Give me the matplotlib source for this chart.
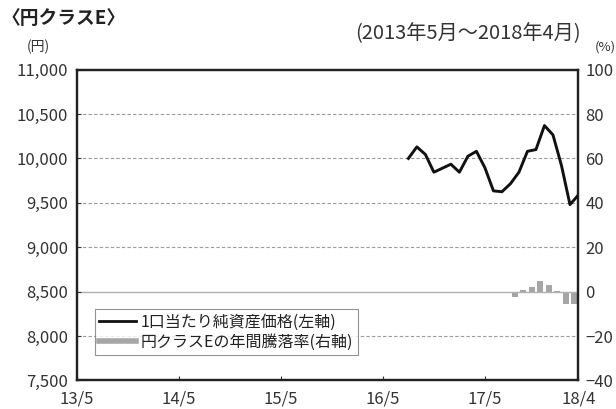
import matplotlib
matplotlib.use("Agg")
import matplotlib.pyplot as plt
from matplotlib.lines import Line2D

plt.rcParams['font.family'] = ['Noto Sans CJK JP', 'DejaVu Sans']

# months counted from 2013/5 (0) to 2018/4 (59)
tick_pos = [0, 12, 24, 36, 48, 59]
tick_labels = ['13/5', '14/5', '15/5', '16/5', '17/5', '18/4']

# 1口当たり純資産価格 (円), 2016/8 - 2018/4
nav_month = list(range(39, 60))
nav_value = [10000, 10130, 10045, 9845, 9890, 9935, 9845, 10025, 10080, 9895,
             9635, 9625, 9715, 9845, 10080, 10100, 10370, 10265, 9920, 9480, 9590]

# 年間騰落率 (%)
ret_month = [52, 53, 54, 55, 56, 57, 58, 59]
ret_value = [-2.5, 0.7, 2.3, 4.8, 3.0, 0.2, -5.5, -5.5]

fig = plt.figure(figsize=(6.16, 4.09), dpi=100)
ax = fig.add_axes([0.1244, 0.0697, 0.8147, 0.7601])
ax2 = ax.twinx()

ax.set_xlim(0, 59)
ax.set_ylim(7500, 11000)
ax2.set_ylim(-40, 100)

# grid lines
for v in [8000, 9000, 9500, 10000, 10500]:
    ax.axhline(v, color='#9a9a9a', lw=0.8, ls=(0, (3, 2)), zorder=0)
ax.axhline(8500, color='#b0b0b0', lw=1.0, zorder=0)

ax2.bar([m - 0.5 for m in ret_month], ret_value, width=0.75, color='#a6a6a6', zorder=2)
ax.plot(nav_month, nav_value, color='#111111', lw=2.1, zorder=3)
ax.set_zorder(ax2.get_zorder() + 1)
ax.patch.set_visible(False)

ax.set_xticks(tick_pos)
ax.set_xticklabels(tick_labels)
ax.set_yticks(range(7500, 11001, 500))
ax.set_yticklabels(['{:,}'.format(v) for v in range(7500, 11001, 500)])
ax2.set_yticks(range(-40, 101, 20))

ax.tick_params(axis='both', direction='in', length=3, labelsize=12, colors='#333333', width=0.8)
ax.tick_params(axis='y', pad=6)
ax.tick_params(axis='x', pad=7)
ax2.tick_params(axis='y', direction='in', length=0, labelsize=12, colors='#333333', pad=5)
for a in (ax, ax2):
    for s in a.spines.values():
        s.set_color('#222222')
        s.set_linewidth(1.6)

handles = [Line2D([], [], color='#111111', lw=2),
           Line2D([], [], color='#a6a6a6', lw=4)]
leg = ax.legend(handles, ['1口当たり純資産価格(左軸)', '円クラスEの年間騰落率(右軸)'],
                loc='lower left', bbox_to_anchor=(0.02, 0.055), fontsize=11.5,
                frameon=True, fancybox=False, handlelength=2.3, handletextpad=0.3,
                borderpad=0.3, labelspacing=0.2)
leg.get_frame().set_edgecolor('#777777')
leg.get_frame().set_linewidth(0.8)
for t in leg.get_texts():
    t.set_color('#222222')

fig.text(0.003, 0.955, '〈円クラスE〉', fontsize=13.5, fontweight='bold', color='#222222', ha='left', va='center')
fig.text(0.942, 0.918, '(2013年5月～2018年4月)', fontsize=14.5, color='#333333', ha='right', va='center')
fig.text(0.062, 0.885, '(円)', fontsize=10, color='#333333', ha='center', va='center')
fig.text(0.966, 0.885, '(%)', fontsize=9.5, color='#333333', ha='left', va='center')

fig.savefig('out.png', dpi=100)
